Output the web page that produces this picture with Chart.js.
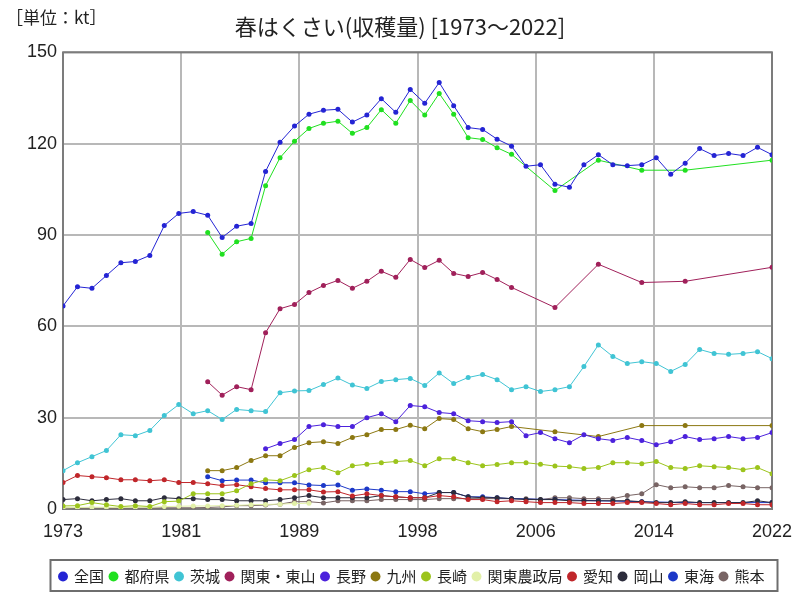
<!DOCTYPE html>
<html>
<head>
<meta charset="utf-8">
<script src="https://cdn.jsdelivr.net/npm/chart.js@4.4.0/dist/chart.umd.min.js"></script>
<style>
  body { margin: 0; background: #fff; }
  #wrap { width: 800px; height: 600px; position: relative; }
</style>
</head>
<body>
<div id="wrap"><canvas id="chart" width="800" height="600"></canvas></div>
<script>
// 1973..2022
const years = [];
for (let y = 1973; y <= 2022; y++) years.push(y);

const seriesNames = ["全国", "都府県", "茨城", "関東・東山", "長野", "九州", "長崎", "関東農政局", "愛知", "岡山", "東海", "熊本"];
const seriesColors = ["#2424d4", "#20e020", "#40c4d4", "#a0205a", "#4c22dc", "#8c7812", "#9cc41c", "#e2f0a8", "#c0262a", "#2c2c3c", "#1c38c8", "#786464"];

const N = null;
const zenkoku = [66.7, 73.0, 72.5, 76.7, 80.9, 81.3, 83.3, 93.1, 97.1, 97.7,
  96.5, 89.2, 92.9, 93.8, 110.9, 120.5, 125.8, 129.7, 131.0, 131.3,
  127.1, 129.4, 134.8, 130.3, 137.8, 133.3, 140.1, 132.5, 125.3, 124.7,
  121.5, 119.2, 112.6, 113.1, 106.7, 105.7, 113.1, 116.4, 113.1, 112.8,
  113.1, 115.4, 110.0, 113.6, 118.4, 116.1, 116.8, 116.1, 118.8, 116.4];
const tofuken = [N, N, N, N, N, N, N, N, N, N,
  90.8, 83.7, 87.8, 88.9, 106.2, 115.4, 120.8, 125.0, 126.7, 127.4,
  123.4, 125.3, 131.2, 126.7, 134.2, 129.4, 136.5, 129.7, 122.0, 121.4,
  118.7, 116.5, N, N, 104.6, N, N, 114.6, N, N,
  111.3, N, N, 111.3, N, N, N, N, N, 114.6];
const ibaraki = [12.6, 15.2, 17.2, 19.2, 24.4, 24.1, 25.8, 30.7, 34.3, 31.3,
  32.3, 29.4, 32.7, 32.3, 32.0, 38.2, 38.8, 38.9, 40.9, 43.0,
  40.7, 39.6, 41.9, 42.5, 42.9, 40.6, 44.7, 41.2, 43.2, 44.2,
  42.5, 39.2, 40.2, 38.6, 39.2, 40.2, 46.8, 53.9, 50.1, 47.8,
  48.4, 47.8, 45.2, 47.5, 52.4, 51.1, 50.8, 51.1, 51.7, 49.4];
const kantoTosan = [N, N, N, N, N, N, N, N, N, N,
  41.8, 37.4, 40.2, 39.2, 57.9, 65.8, 67.2, 71.1, 73.4, 75.1,
  72.5, 74.8, 78.1, 76.1, 82.0, 79.3, 81.7, 77.4, 76.4, 77.7,
  75.4, 72.8, N, N, 66.2, N, N, 80.4, N, N,
  74.4, N, N, 74.8, N, N, N, N, N, 79.4];
const nagano = [N, N, N, N, N, N, N, N, N, N,
  N, N, N, N, 19.8, 21.5, 22.8, 27.1, 27.7, 27.1,
  27.1, 30.0, 31.3, 28.7, 34.0, 33.6, 31.7, 31.3, 29.0, 28.7,
  28.4, 28.7, 24.1, 25.1, 23.1, 21.8, 24.4, 23.1, 22.5, 23.5,
  22.5, 21.1, 22.1, 23.8, 22.8, 23.1, 23.8, 23.1, 23.5, 25.1];
const kyushu = [N, N, N, N, N, N, N, N, N, N,
  12.6, 12.6, 13.6, 15.9, 17.5, 17.5, 20.2, 21.8, 22.1, 21.5,
  23.5, 24.4, 26.1, 26.1, 27.5, 26.4, 29.7, 29.4, 26.4, 25.4,
  26.1, 27.1, N, N, 25.4, N, N, 23.8, N, N,
  27.4, N, N, 27.4, N, N, N, N, N, 27.4];
const nagasaki = [1.0, 1.1, 2.1, 1.4, 0.8, 1.1, 0.8, 2.4, 2.6, 5.0,
  5.0, 5.0, 6.0, 8.3, 9.6, 9.3, 11.0, 12.9, 13.6, 11.9,
  14.2, 14.7, 15.2, 15.6, 15.9, 14.2, 16.5, 16.5, 15.2, 14.2,
  14.6, 15.2, 15.2, 14.7, 14.1, 13.9, 13.3, 13.6, 15.2, 15.2,
  14.9, 15.6, 13.6, 13.3, 14.2, 13.9, 13.6, 12.9, 13.6, 11.6];
const kantoNoseikyoku = [0.4, 0.5, 0.6, 0.6, 0.5, 0.6, 0.6, 0.8, 0.9, 1.0,
  1.0, 1.1, 1.2, 1.4, 1.5, 1.6, 1.8, 1.9, N, N,
  N, N, N, N, N, N, N, N, N, N,
  N, N, N, N, N, N, N, N, N, N,
  N, N, N, N, N, N, N, N, N, N];
const aichi = [8.7, 11.0, 10.6, 10.3, 9.6, 9.6, 9.3, 9.6, 8.7, 8.7,
  8.3, 7.7, 8.0, 7.3, 6.7, 6.3, 6.3, 6.3, 5.6, 5.7,
  4.3, 5.0, 4.4, 4.0, 3.7, 3.7, 4.4, 4.0, 3.1, 3.1,
  2.4, 2.7, 2.4, 2.1, 2.1, 2.1, 1.8, 1.8, 1.8, 2.1,
  2.1, 1.8, 1.4, 1.8, 1.4, 1.4, 1.8, 1.8, 1.4, 1.4];
const okayama = [3.1, 3.4, 2.7, 3.1, 3.4, 2.7, 2.7, 3.7, 3.4, 3.4,
  3.1, 3.1, 2.7, 2.7, 2.7, 3.1, 3.7, 4.4, 3.7, 3.7,
  3.7, 3.7, 4.4, 4.0, 3.7, 3.7, 5.4, 5.4, 4.0, 3.7,
  3.7, 3.4, 3.1, 3.1, 3.1, 2.7, 2.7, 2.7, 2.7, 2.7,
  2.4, 2.1, 2.1, 2.4, 2.1, 2.1, 2.1, 2.1, 2.7, 2.1];
const tokai = [N, N, N, N, N, N, N, N, N, N,
  10.6, 9.3, 9.5, 9.5, 8.6, 8.6, 8.6, 7.9, 7.7, 7.9,
  6.2, 6.6, 6.2, 5.7, 5.7, 5.0, 5.4, 5.4, 4.0, 4.0,
  3.7, 3.4, N, N, 3.1, N, N, 2.7, N, N,
  2.4, N, N, 2.1, N, N, N, N, N, 2.1];
const kumamoto = [0.3, 0.3, 0.3, 0.3, 0.3, 0.3, 0.3, 0.4, 0.4, 0.4,
  0.5, 0.7, 1.1, 1.1, 1.3, 1.6, 2.4, 2.4, 2.0, 2.7,
  2.7, 2.7, 3.1, 3.1, 3.1, 3.1, 3.4, 3.4, 3.4, 3.4,
  3.4, 3.4, 3.4, 3.1, 3.7, 3.7, 3.4, 3.4, 3.4, 4.4,
  5.0, 8.0, 7.0, 7.3, 7.0, 7.0, 7.7, 7.3, 7.0, 7.0];

const seriesValues = [zenkoku, tofuken, ibaraki, kantoTosan, nagano, kyushu, nagasaki, kantoNoseikyoku, aichi, okayama, tokai, kumamoto];

const xTickLabels = [1973, 1981, 1989, 1998, 2006, 2014, 2022];
const yTicks = [0, 30, 60, 90, 120, 150];

const numFont = "'Liberation Sans Narrow', 'Liberation Sans', sans-serif";
const jpFont = "'Noto Sans CJK JP', sans-serif";

const datasets = seriesNames.map((name, i) => ({
  label: name,
  data: years
    .map((yr, j) => ({ x: yr, y: seriesValues[i][j] }))
    .filter((p) => p.y !== null),
  borderColor: seriesColors[i],
  backgroundColor: seriesColors[i],
  borderWidth: 1,
  pointRadius: 2.5,
  pointHoverRadius: 2.5,
  pointBorderWidth: 0,
  tension: 0,
}));

// frame round the plot, legend box and unit label
const decorations = {
  id: "decorations",
  afterLayout(chart) {
    // legend and title sit a bit to the right in the original
    chart.legend.left += 26;
    chart.legend.right += 26;
    chart.titleBlock.left += 14;
    chart.titleBlock.right += 14;
  },
  beforeDatasetsDraw(chart) {
    const { ctx, chartArea: a } = chart;
    ctx.save();
    ctx.strokeStyle = "#7c7c7c";
    ctx.lineWidth = 2;
    ctx.strokeRect(a.left, a.top, a.right - a.left, a.bottom - a.top);
    ctx.restore();
  },
  afterDraw(chart) {
    const ctx = chart.ctx;
    const boxes = chart.legend.legendHitBoxes;
    if (boxes && boxes.length) {
      let l = Infinity, r = -Infinity, t = Infinity, b = -Infinity;
      boxes.forEach((h) => {
        l = Math.min(l, h.left);
        r = Math.max(r, h.left + h.width);
        t = Math.min(t, h.top);
        b = Math.max(b, h.top + h.height);
      });
      ctx.save();
      ctx.strokeStyle = "#6e6e6e";
      ctx.lineWidth = 2;
      ctx.strokeRect(l - 9, t - 9, r - l + 22, b - t + 16);
      ctx.restore();
    }
    ctx.save();
    ctx.fillStyle = "#222";
    ctx.font = "17px " + jpFont;
    ctx.textBaseline = "middle";
    ctx.fillText("［単位：kt］", 6, 18);
    ctx.restore();
  },
};

new Chart(document.getElementById("chart").getContext("2d"), {
  type: "line",
  data: { datasets: datasets },
  options: {
    responsive: false,
    animation: false,
    events: [],
    layout: { padding: { top: 0, right: 28, bottom: 6, left: 0 } },
    plugins: {
      title: {
        display: true,
        text: "春はくさい(収穫量) [1973～2022]",
        color: "#222",
        font: { family: jpFont, size: 22, weight: "normal" },
        padding: { top: 13, bottom: 13 },
      },
      legend: {
        position: "bottom",
        labels: {
          usePointStyle: true,
          pointStyle: "circle",
          boxWidth: 7,
          boxHeight: 7,
          padding: 6,
          color: "#222",
          font: { family: jpFont, size: 15 },
        },
      },
      tooltip: { enabled: false },
    },
    scales: {
      x: {
        type: "linear",
        min: years[0],
        max: years[years.length - 1],
        afterBuildTicks(scale) {
          const n = xTickLabels.length - 1;
          scale.ticks = xTickLabels.map((_, i) => ({
            value: scale.min + ((scale.max - scale.min) * i) / n,
          }));
        },
        afterFit(scale) {
          scale.height = 54;
          scale.paddingLeft = 0;
          scale.paddingRight = 0;
        },
        ticks: {
          callback: (v, i) => xTickLabels[i],
          autoSkip: false,
          maxRotation: 0,
          padding: 12,
          color: "#222",
          font: { family: numFont, size: 18 },
        },
        grid: { color: "#b8b8b8", lineWidth: 2, drawTicks: false },
        border: { display: false },
      },
      y: {
        min: yTicks[0],
        max: yTicks[yTicks.length - 1],
        afterBuildTicks(scale) {
          scale.ticks = yTicks.map((v) => ({ value: v }));
        },
        afterFit(scale) {
          scale.width = 63;
        },
        ticks: {
          padding: 6,
          color: "#222",
          font: { family: numFont, size: 18 },
        },
        grid: { color: "#b8b8b8", lineWidth: 2, drawTicks: false },
        border: { display: false },
      },
    },
  },
  plugins: [decorations],
});
</script>
</body>
</html>
